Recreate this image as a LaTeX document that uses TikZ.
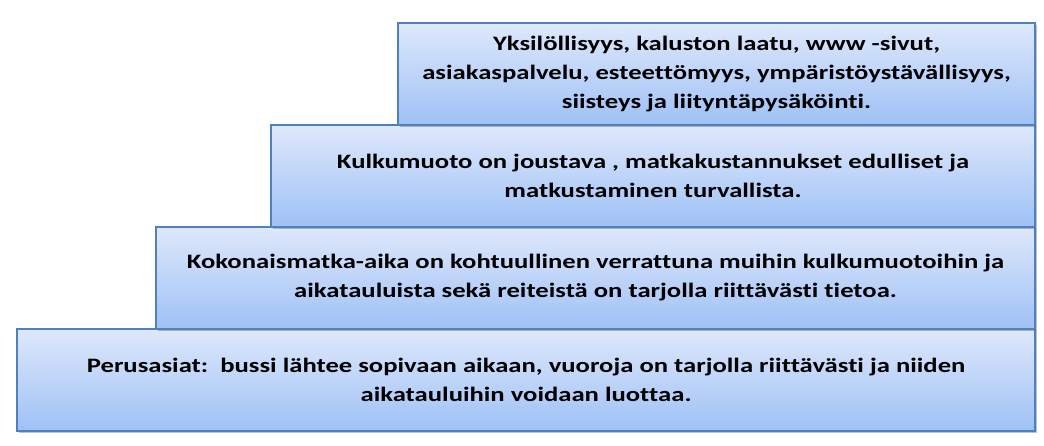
\documentclass[tikz,border=0pt]{standalone}
\usepackage{fontspec}
\setmainfont{Carlito}[FakeStretch=1.3, Ligatures=NoCommon]
\usetikzlibrary{positioning,shadows}
\definecolor{tierline}{RGB}{79,129,189}
\definecolor{tiertop}{RGB}{222,232,251}
\definecolor{tierbot}{RGB}{158,193,246}

\begin{document}
\begin{tikzpicture}[
        x=1pt, y=1pt,
        font=\bfseries\fontsize{20.5}{29}\selectfont,
        tier/.style={draw=tierline, line width=2.4pt, align=center, minimum height=102pt,
            top color=tiertop, bottom color=tierbot, inner sep=0pt, outer sep=0pt,
            drop shadow={shadow xshift=1.5pt, shadow yshift=-2pt, opacity=0.35, fill=black!70}}
    ]
        \useasboundingbox (0,0) rectangle (1044,446);

        % Bottom step first, the others stacked on its right edge
        \node[tier, minimum width=1018pt, anchor=south east] (basics) at (1035,15)
            {Perusasiat:\ \ bussi lähtee sopivaan aikaan, vuoroja on tarjolla riittävästi ja niiden\\aikatauluihin voidaan luottaa.};
        \node[tier, minimum width=879pt, anchor=south east] (traveltime) at (basics.north east)
            {Kokonaismatka-aika on kohtuullinen verrattuna muihin kulkumuotoihin ja\\aikatauluista sekä reiteistä on tarjolla riittävästi tietoa.};
        \node[tier, minimum width=764pt, anchor=south east] (flexible) at (traveltime.north east)
            {Kulkumuoto on joustava , matkakustannukset edulliset ja\\matkustaminen turvallista.};
        \node[tier, minimum width=637pt, anchor=south east] (extras) at (flexible.north east)
            {Yksilöllisyys, kaluston laatu, www -sivut,\\asiakaspalvelu, esteettömyys, ympäristöystävällisyys,\\siisteys ja liityntäpysäköinti.};
    \end{tikzpicture}
\end{document}
